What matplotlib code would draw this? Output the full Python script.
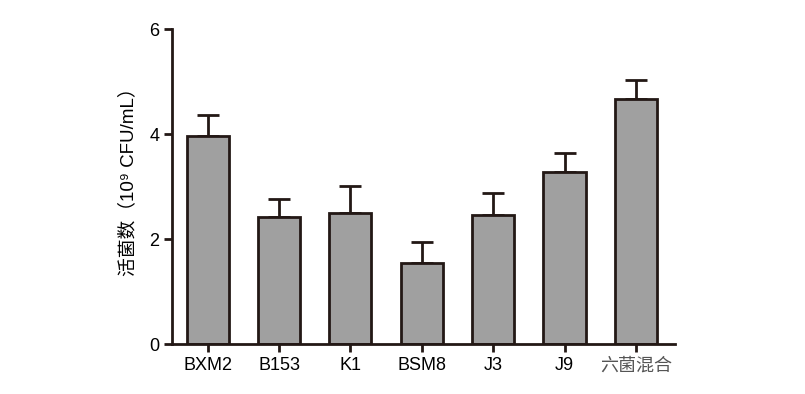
import numpy as np
import matplotlib.pyplot as plt
import matplotlib as mpl

strains = ['BXM2', 'B153', 'K1', 'BSM8', 'J3', 'J9', '六菌混合']
counts = [3.97, 2.43, 2.50, 1.55, 2.46, 3.27, 4.68]
errors = [0.39, 0.33, 0.52, 0.39, 0.42, 0.38, 0.35]
yticks = [0, 2, 4, 6]

mpl.rcParams['font.family'] = ['Liberation Sans', 'Noto Sans CJK SC', 'DejaVu Sans']

edge = '#231815'

fig = plt.figure(figsize=(8.05, 3.94), dpi=100)
ax = fig.add_axes([0.2137, 0.1269, 0.625, 0.7987])

x = np.arange(len(strains))
ax.bar(x, counts, width=0.59, color='#a0a0a0', edgecolor=edge, linewidth=2, zorder=2)
ax.errorbar(x, counts, yerr=[np.zeros(len(errors)), errors], fmt='none', ecolor=edge,
			elinewidth=2, capsize=8, capthick=2, zorder=1)

ax.set_xlim(-0.5, 6.55)
ax.set_ylim(0, 6)
ax.set_yticks(yticks)
ax.set_xticks(x)
ax.set_xticklabels(strains)
for lab in ax.get_xticklabels():
	if lab.get_text() == '六菌混合':
		lab.set_family(['Noto Sans CJK SC', 'DejaVu Sans'])
		lab.set_color('#555555')
		lab.set_fontweight('light')

for side in ['top', 'right']:
	ax.spines[side].set_visible(False)
for side in ['left', 'bottom']:
	ax.spines[side].set_linewidth(2)
	ax.spines[side].set_color(edge)
ax.tick_params(axis='both', width=2, length=6, color=edge, labelsize=13, pad=3)
ax.set_ylabel('活菌数（10⁹ CFU/mL）', fontsize=13.5, labelpad=9)
ax.yaxis.set_label_coords(-0.07, 0.53)

fig.savefig('out.png', dpi=100)
